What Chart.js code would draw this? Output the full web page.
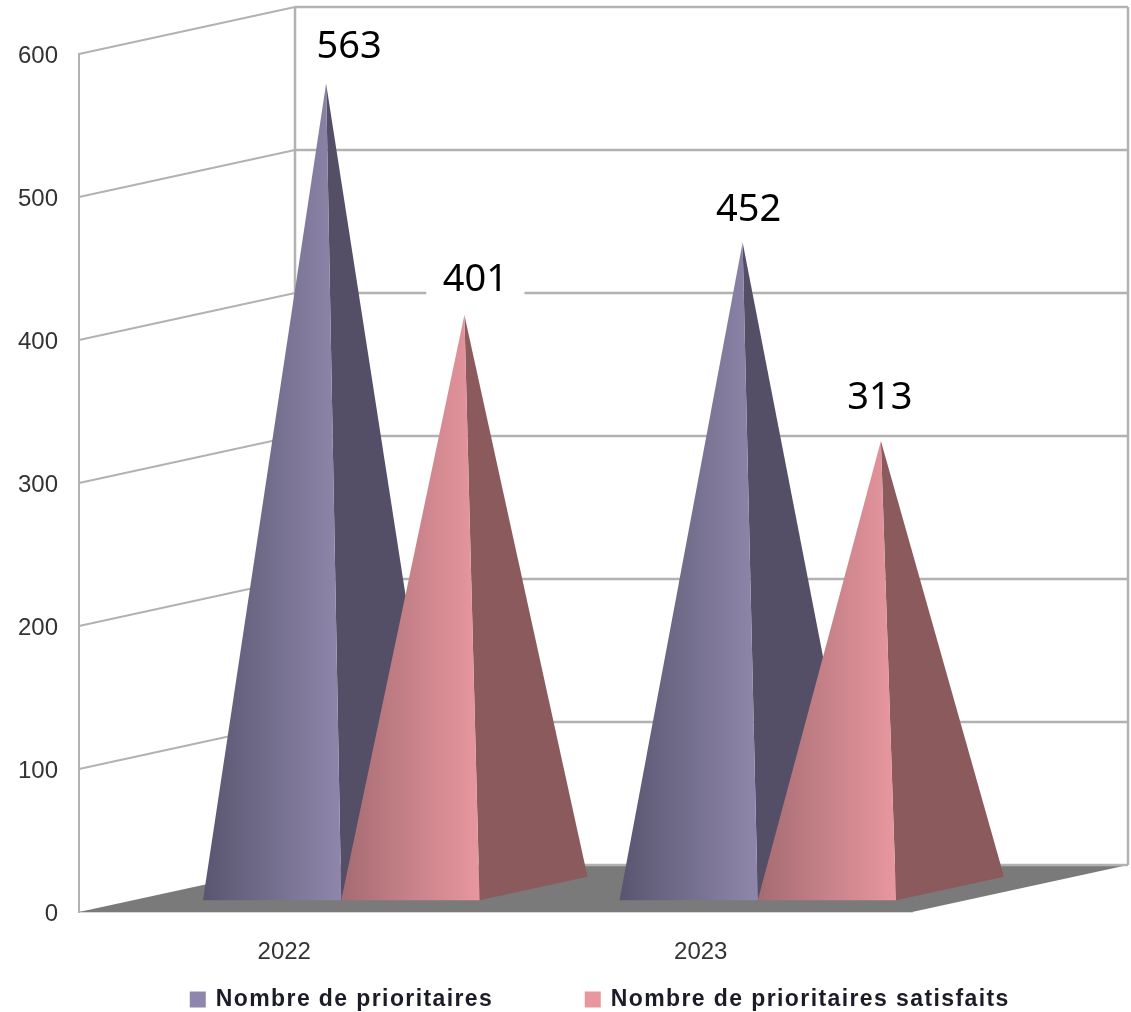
<!DOCTYPE html>
<html>
<head>
<meta charset="utf-8">
<title>Prioritaires</title>
<script src="https://cdn.jsdelivr.net/npm/chart.js@4"></script>
<style>
    html, body { margin: 0; background: #fff; }
    canvas { display: block; }
</style>
</head>
<body>
<canvas id="chart" width="1131" height="1012"></canvas>
<script>
const years = ['2022', '2023'];
const seriesNames = ['Nombre de prioritaires', 'Nombre de prioritaires satisfaits'];
const prioritaires = [563, 452];
const satisfaits = [401, 313];

const legendColors = ['#8f87ab', '#e8979f'];
const faceDark = ['#59556f', '#a56b72'];
const faceLight = ['#8f87ab', '#e8979f'];
const faceSide = ['#544e66', '#8b5a5d'];
// hand placement of the value labels, per dataset then per year
const labelNudge = [[[23, -36], [6, -32]], [[11, -35], [-1, -43]]];

const depthX = 216;
const depthY = 47;
const gridColor = '#b2b2b2';
const labelFont = '38px "Noto Sans", sans-serif';

const legendSpacing = '1.4px';
const legendGap = 93;

const wallsAndPyramids = {
    id: 'wallsAndPyramids',
    beforeInit(chart) {
        const legend = chart.legend;
        const fitValue = legend.fit;
        const drawValue = legend.draw;
        legend.fit = function() {
            // the legend is wider than the plot, let it use the whole page
            this.maxWidth = 1131;
            chart.ctx.letterSpacing = legendSpacing;
            fitValue.call(this);
            chart.ctx.letterSpacing = '0px';
            this.height = 40;
        };
        legend.draw = function() {
            // legend sits right of the page centre in the original
            this.left = 35;
            this.right = 1131 + 35;
            this.top = 998 - legendGap - 10;
            this.bottom = 1012;
            chart.ctx.letterSpacing = legendSpacing;
            drawValue.call(this);
            chart.ctx.letterSpacing = '0px';
        };
    },
    beforeDatasetsDraw(chart) {
        const ctx = chart.ctx;
        const { left, right, bottom } = chart.chartArea;
        const yScale = chart.scales.y;
        const top = yScale.getPixelForValue(600);

        ctx.save();
        // floor
        ctx.fillStyle = '#7a7a7a';
        ctx.beginPath();
        ctx.moveTo(left, bottom);
        ctx.lineTo(right, bottom);
        ctx.lineTo(right + depthX, bottom - depthY);
        ctx.lineTo(left + depthX, bottom - depthY);
        ctx.closePath();
        ctx.fill();

        ctx.strokeStyle = gridColor;
        ctx.lineWidth = 2.5;
        ctx.beginPath();
        ctx.moveTo(left + depthX, top - depthY);
        ctx.lineTo(left + depthX, bottom - depthY);
        ctx.moveTo(right + depthX, top - depthY);
        ctx.lineTo(right + depthX, bottom - depthY);
        yScale.ticks.forEach(tick => {
            const y = yScale.getPixelForValue(tick.value);
            ctx.moveTo(left + depthX, y - depthY);
            ctx.lineTo(right + depthX, y - depthY);
        });
        ctx.stroke();

        ctx.lineWidth = 2;
        ctx.beginPath();
        yScale.ticks.forEach(tick => {
            if (tick.value === 0) return;
            const y = yScale.getPixelForValue(tick.value);
            ctx.moveTo(left, y);
            ctx.lineTo(left + depthX, y - depthY);
        });
        ctx.stroke();
        ctx.restore();
    },
    // the bars are only used for their geometry
    beforeDatasetDraw() {
        return false;
    },
    afterDatasetsDraw(chart) {
        const ctx = chart.ctx;
        const frontDx = depthX * 0.25, frontDy = depthY * 0.25;
        const backDx = depthX * 0.75, backDy = depthY * 0.75;
        const midDx = depthX * 0.5, midDy = depthY * 0.5;

        // one year after the other, the first series behind the second
        years.forEach((year, i) => {
            chart.data.datasets.forEach((dataset, d) => {
                const bar = chart.getDatasetMeta(d).data[i];
                const x0 = bar.x - bar.width / 2 + frontDx;
                const x1 = bar.x + bar.width / 2 + frontDx;
                const yFront = bar.base - frontDy;
                const apexX = bar.x + midDx;
                const apexY = bar.y - midDy;

                ctx.fillStyle = faceSide[d];
                ctx.beginPath();
                ctx.moveTo(x1, yFront);
                ctx.lineTo(bar.x + bar.width / 2 + backDx, bar.base - backDy);
                ctx.lineTo(apexX, apexY);
                ctx.closePath();
                ctx.fill();

                const gradient = ctx.createLinearGradient(x0, 0, x1, 0);
                gradient.addColorStop(0, faceDark[d]);
                gradient.addColorStop(1, faceLight[d]);
                ctx.fillStyle = gradient;
                ctx.beginPath();
                ctx.moveTo(x0, yFront);
                ctx.lineTo(x1, yFront);
                ctx.lineTo(apexX, apexY);
                ctx.closePath();
                ctx.fill();
            });
        });

        chart.data.datasets.forEach((dataset, d) => {
            chart.getDatasetMeta(d).data.forEach((bar, i) => {
                const x = bar.x + midDx + labelNudge[d][i][0];
                const y = bar.y - midDy + labelNudge[d][i][1];
                const text = String(dataset.data[i]);
                ctx.save();
                ctx.font = labelFont;
                ctx.textAlign = 'center';
                ctx.textBaseline = 'middle';
                const w = ctx.measureText(text).width + 33;
                ctx.fillStyle = '#ffffff';
                ctx.fillRect(x - w / 2, y - 20, w, 40);
                ctx.fillStyle = '#000000';
                ctx.fillText(text, x, y);
                ctx.restore();
            });
        });
    }
};

new Chart(document.getElementById('chart'), {
    type: 'bar',
    data: {
        labels: years,
        datasets: [{
            label: seriesNames[0],
            data: prioritaires,
            backgroundColor: legendColors[0],
            borderColor: legendColors[0],
            borderWidth: 3
        }, {
            label: seriesNames[1],
            data: satisfaits,
            backgroundColor: legendColors[1],
            borderColor: legendColors[1],
            borderWidth: 3
        }]
    },
    options: {
        responsive: false,
        animation: false,
        devicePixelRatio: 1,
        categoryPercentage: 0.664,
        barPercentage: 1,
        layout: {
            padding: { left: 0, right: 219, top: 54, bottom: 0 }
        },
        scales: {
            x: {
                grid: { display: false },
                border: { color: '#d8d8d8', width: 2 },
                ticks: {
                    color: '#333',
                    padding: 18,
                    labelOffset: -3,
                    maxRotation: 0,
                    font: { family: '"Liberation Sans", sans-serif', size: 24 }
                },
                afterFit(scale) {
                    scale.height = 60;
                }
            },
            y: {
                min: 0,
                max: 600,
                grid: { display: false },
                border: { color: '#b2b2b2', width: 2 },
                ticks: {
                    stepSize: 100,
                    color: '#333',
                    padding: 13,
                    labelOffset: 2,
                    font: { family: '"Liberation Sans", sans-serif', size: 24 }
                },
                afterFit(scale) {
                    scale.width = 79;
                }
            }
        },
        plugins: {
            tooltip: { enabled: false },
            legend: {
                position: 'bottom',
                labels: {
                    color: '#1c1c28',
                    boxWidth: 13,
                    boxHeight: 13,
                    padding: legendGap,
                    font: { family: '"Liberation Sans", sans-serif', size: 23, weight: 'bold' }
                }
            }
        }
    },
    plugins: [wallsAndPyramids]
});
</script>
</body>
</html>
